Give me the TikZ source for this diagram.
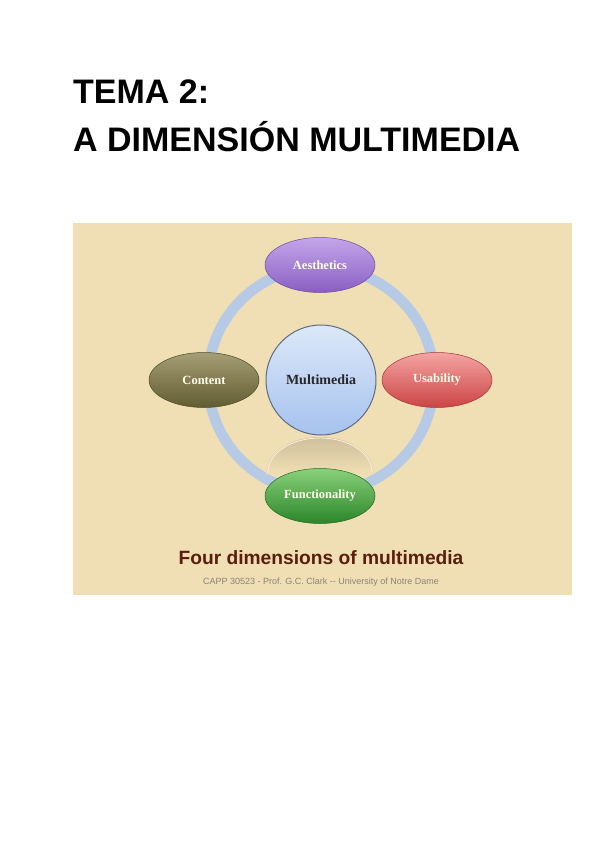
\documentclass[tikz,border=0pt]{standalone}
\usepackage{fontspec}
\setmainfont{Liberation Serif}
\newfontfamily\headfont{Liberation Sans}
\usetikzlibrary{shapes.geometric}
\definecolor{panelbg}{HTML}{F0DEB4}
\definecolor{ringblue}{HTML}{B6CAE6}
\definecolor{titlebrown}{HTML}{5A1E0C}
\definecolor{subgray}{HTML}{8A8478}
\definecolor{aesTop}{HTML}{C4A6EA}
\definecolor{aesBot}{HTML}{8A5EC2}
\definecolor{conTop}{HTML}{A69E76}
\definecolor{conBot}{HTML}{625C32}
\definecolor{usaTop}{HTML}{F4A4A4}
\definecolor{usaBot}{HTML}{CC4444}
\definecolor{funTop}{HTML}{8AD07A}
\definecolor{funBot}{HTML}{2A862A}
\definecolor{mmTop}{HTML}{DCE8F8}
\definecolor{mmBot}{HTML}{A6C2EE}
\definecolor{mmEdge}{HTML}{5C6C84}
\tikzset{
  dimnode/.style={ellipse, minimum width=110pt, minimum height=55pt, inner sep=0pt,
    text=white!92!yellow, font=\bfseries\fontsize{12.5pt}{15pt}\selectfont, line width=0.5pt},
  aesth/.style={dimnode, top color=aesTop, bottom color=aesBot, draw=aesBot!80!black},
  contentn/.style={dimnode, top color=conTop, bottom color=conBot, draw=conBot!80!black},
  usab/.style={dimnode, top color=usaTop, bottom color=usaBot, draw=usaBot!80!black},
  funct/.style={dimnode, top color=funTop, bottom color=funBot, draw=funBot!80!black},
  centre/.style={circle, minimum size=110pt, inner sep=0pt, top color=mmTop, bottom color=mmBot,
    draw=mmEdge, line width=1pt, text=black!85, font=\bfseries\fontsize{14pt}{16pt}\selectfont},
  ring/.style={draw=ringblue, line width=10.5pt},
}
\begin{document}
\begin{tikzpicture}[x=1pt,y=-1pt]
\useasboundingbox (0,0) rectangle (600,848);
\fill[white] (0,0) rectangle (600,848);
% title
\node[anchor=base west, inner sep=0pt, font=\headfont\bfseries\fontsize{34pt}{40pt}\selectfont] (t1) at (73,104) {TEMA 2:};
\node[anchor=base west, inner sep=0pt, font=\headfont\bfseries\fontsize{34pt}{40pt}\selectfont] (t2) at (73,151) {A DIMENSIÓN MULTIMEDIA};
% panel
\fill[panelbg] (73,223) rectangle (572,595);
\coordinate (ctr) at (321,380);
\draw[ring] (ctr) circle[radius=113];
% reflection of the centre circle
\shade[top color=black!14!panelbg, bottom color=panelbg] (266,474) arc[start angle=180, end angle=360, x radius=54, y radius=37] -- cycle;
\draw[white!60!panelbg, line width=0.8pt] (268,472) arc[start angle=180, end angle=360, x radius=52, y radius=34];
\node[centre] (mm) at (ctr) {Multimedia};
\node[aesth] (aes) at (320,265) {Aesthetics};
\node[contentn] (con) at (204,380) {Content};
\node[usab] (usa) at (437,380) {Usability};
\node[funct] (fun) at (320,496) {Functionality};
% captions
\node[text=titlebrown, font=\headfont\bfseries\fontsize{19.2pt}{22pt}\selectfont] (cap) at (321,558) {Four dimensions of multimedia};
\node[text=subgray, font=\headfont\fontsize{9pt}{11pt}\selectfont] (sub) at (321,582) {CAPP 30523 - Prof. G.C. Clark -- University of Notre Dame};
\end{tikzpicture}
\end{document}
